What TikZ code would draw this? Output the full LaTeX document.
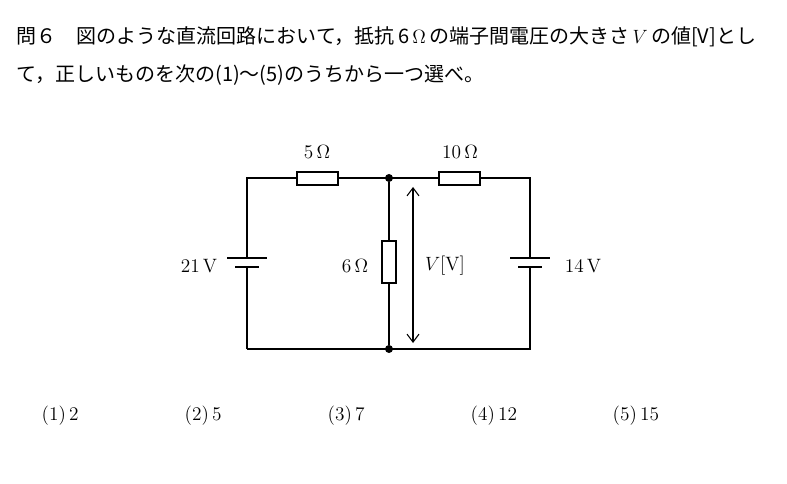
\documentclass[tikz,border=0pt]{standalone}
\usepackage{fontspec}
\newfontfamily\cjk{Noto Sans CJK JP}
\usetikzlibrary{arrows.meta}
\tikzset{
  wire/.style={line width=1.1pt},
  res/.style={draw, line width=1pt, fill=white},
  plate/.style={line width=1.1pt},
  lbl/.style={font=\fontsize{14.5}{17}\selectfont},
  jtext/.style={anchor=west, font=\cjk\fontsize{15}{18}\selectfont},
  dot/.style={circle, fill=black, inner sep=0pt, minimum size=6pt}
}
\begin{document}
\begin{tikzpicture}[x=0.75pt, y=-0.75pt]
    %%Background
    \useasboundingbox (0,0) rectangle (787,484);
    %% question
    \node[jtext] at (12,37) {問６\quad 図のような直流回路において，抵抗\,6\,$\Omega$\,の端子間電圧の大きさ\,$V$\,の値[V]とし};
    \node[jtext] at (12,75) {て，正しいものを次の(1)～(5)のうちから一つ選べ。};

    %% nodes
    \coordinate (tl) at (247,178);
    \coordinate (tr) at (530,178);
    \coordinate (bl) at (247,349);
    \coordinate (br) at (530,349);
    \node[dot] (tm) at (389,178) {};
    \node[dot] (bm) at (389,349) {};

    %% wires
    \draw[wire] (bl) -- (tl) -- (tr) -- (br) -- (bl);
    \draw[wire] (tm) -- (bm);

    %% batteries
    \draw[draw=white, fill=white] (240,259) rectangle (254,266);
    \draw[plate] (227,258) -- (267,258);
    \draw[plate] (235,267) -- (259,267);
    \draw[draw=white, fill=white] (523,259) rectangle (537,266);
    \draw[plate] (510,258) -- (550,258);
    \draw[plate] (518,267) -- (542,267);

    %% resistors
    \draw[res] (297,172) rectangle (338,185);
    \draw[res] (439,172) rectangle (480,185);
    \draw[res] (382,241) rectangle (396,283);

    %% voltage arrow
    \coordinate (va) at (413,187);
    \coordinate (vb) at (413,343);
    \draw[line width=0.8pt, {Straight Barb[length=6pt,width=9pt]}-{Straight Barb[length=6pt,width=9pt]}] (va) -- (vb);

    \draw
    (317,152) node[lbl]{5\,$\Omega$}
    (460,152) node[lbl]{10\,$\Omega$}
    (199,266) node[lbl]{21\,V}
    (355,266) node[lbl]{6\,$\Omega$}
    (445,266) node[lbl]{$V$[V]}
    (583,266) node[lbl]{14\,V}
    ;
    %% choices
    \foreach \i/\v/\x in {1/2/37, 2/5/180, 3/7/323, 4/12/466, 5/15/608}
        \node[lbl, anchor=west] at (\x,416) {(\i)\,\v};
\end{tikzpicture}
\end{document}
